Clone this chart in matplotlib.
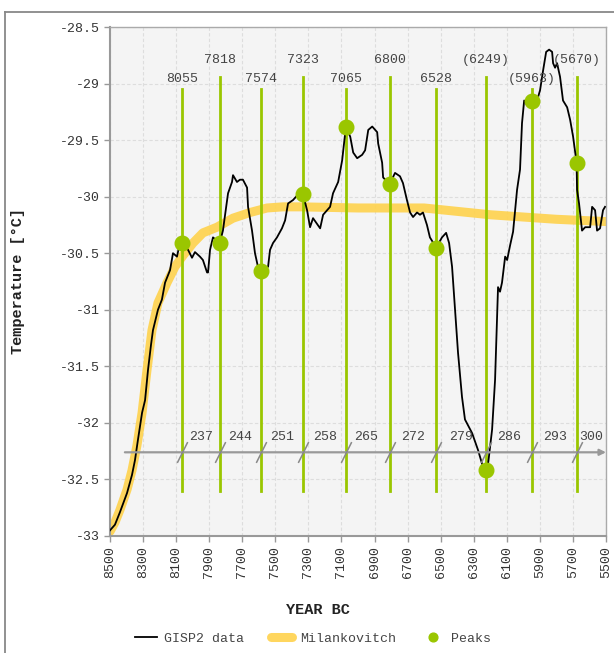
import matplotlib.pyplot as plt
import matplotlib.lines as mlines
from matplotlib.ticker import FuncFormatter, MultipleLocator

# GISP2 temperature record
gisp2_year = [8500, 8470, 8440, 8397, 8367, 8349, 8331, 8306, 8288, 8270, 8252, 8240,
              8210, 8186, 8167, 8137, 8119, 8095, 8077, 8066, 8028, 8004, 7986, 7956,
              7938, 7913, 7907, 7895, 7877, 7836, 7817, 7786, 7762, 7756, 7732, 7714,
              7696, 7671, 7665, 7641, 7623, 7605, 7584, 7544, 7532, 7514, 7490, 7460,
              7441, 7423, 7393, 7356, 7332, 7308, 7290, 7272, 7229, 7211, 7169, 7151,
              7120, 7096, 7078, 7073, 7047, 7029, 7005, 6975, 6957, 6938, 6914, 6884,
              6878, 6854, 6848, 6809, 6776, 6746, 6728, 6704, 6685, 6667, 6643, 6625,
              6607, 6583, 6565, 6527, 6492, 6467, 6449, 6431, 6413, 6395, 6371, 6353,
              6310, 6274, 6250, 6230, 6213, 6189, 6171, 6153, 6141, 6129, 6110, 6098,
              6080, 6062, 6038, 6020, 6008, 5995, 5977, 5950, 5917, 5899, 5880, 5862,
              5844, 5826, 5820, 5808, 5796, 5778, 5760, 5735, 5717, 5699, 5678, 5675,
              5663, 5645, 5626, 5596, 5584, 5566, 5554, 5536, 5518, 5506]
gisp2_temp = [-32.95, -32.90, -32.79, -32.62, -32.46, -32.33, -32.15, -31.91, -31.80, -31.53,
              -31.31, -31.18, -31.00, -30.91, -30.76, -30.65, -30.50, -30.53, -30.41, -30.41,
              -30.47, -30.54, -30.49, -30.53, -30.56, -30.67, -30.67, -30.47, -30.36, -30.41,
              -30.30, -29.97, -29.87, -29.81, -29.87, -29.85, -29.85, -29.92, -30.09, -30.30,
              -30.50, -30.62, -30.66, -30.62, -30.47, -30.41, -30.36, -30.28, -30.21, -30.06,
              -30.03, -29.97, -29.98, -30.12, -30.27, -30.19, -30.28, -30.16, -30.09, -29.97,
              -29.87, -29.68, -29.44, -29.38, -29.47, -29.61, -29.66, -29.63, -29.59, -29.41,
              -29.38, -29.43, -29.53, -29.70, -29.83, -29.89, -29.79, -29.82, -29.88, -30.03,
              -30.14, -30.18, -30.14, -30.16, -30.14, -30.25, -30.36, -30.45, -30.36, -30.32,
              -30.41, -30.62, -31.00, -31.38, -31.77, -31.97, -32.09, -32.24, -32.36, -32.43,
              -32.36, -32.06, -31.62, -30.80, -30.84, -30.76, -30.53, -30.56, -30.43, -30.31,
              -29.94, -29.76, -29.35, -29.15, -29.19, -29.15, -29.15, -29.06, -28.88, -28.72,
              -28.70, -28.72, -28.82, -28.86, -28.82, -28.94, -29.15, -29.21, -29.32, -29.47,
              -29.70, -29.94, -30.06, -30.30, -30.27, -30.27, -30.09, -30.12, -30.30, -30.28,
              -30.12, -30.09]

# Milankovitch curve
milank_year = [8500, 8470, 8440, 8397, 8367, 8337, 8306, 8276, 8246, 8210, 8155, 8107,
               8058, 7998, 7938, 7853, 7756, 7653, 7550, 7453, 7350, 7000, 6600, 6400,
               6200, 6000, 5800, 5500]
milank_temp = [-32.96, -32.88, -32.77, -32.59, -32.42, -32.20, -31.91, -31.53, -31.18, -30.94,
               -30.76, -30.62, -30.52, -30.41, -30.32, -30.27, -30.19, -30.14, -30.10, -30.09,
               -30.09, -30.10, -30.10, -30.13, -30.16, -30.18, -30.20, -30.22]

# peaks
peak_year = [8066, 7836, 7584, 7332, 7073, 6809, 6527, 6226, 5950, 5678]
peak_temp = [-30.41, -30.41, -30.66, -29.98, -29.38, -29.89, -30.45, -32.42, -29.15, -29.70]
peak_labels = ['8055', '7818', '7574', '7323', '7065', '6800', '6528',
               '(6249)', '(5963)', '(5670)']
peak_top = [-29.05, -28.94, -29.05, -28.94, -29.05, -28.94, -29.05, -28.94, -29.05, -28.94]
peak_bottom = -32.6
interval_labels = ['237', '244', '251', '258', '265', '272', '279', '286', '293', '300']
interval_level = -32.26

x_ticks = list(range(8500, 5499, -200))

GREEN = '#9AC600'
YELLOW = '#FFD24C'
GRAY = '#999999'
TXT = '#444444'
MONO = 'Liberation Mono'

plt.rcParams['font.family'] = MONO

fig = plt.figure(figsize=(6.14, 6.53), dpi=100)
ax = fig.add_axes([110 / 614, 1 - 536 / 653, 496 / 614, 509 / 653])
ax.set_facecolor('#F4F4F4')

# outer frame
fig.add_artist(mlines.Line2D([5 / 614, 1], [1 - 12 / 653, 1 - 12 / 653],
                             transform=fig.transFigure, color='#888888', lw=1.3))
fig.add_artist(mlines.Line2D([5 / 614, 5 / 614], [0, 1 - 12 / 653],
                             transform=fig.transFigure, color='#888888', lw=1.3))

ax.plot(milank_year, milank_temp, color=YELLOW, lw=6.5, alpha=0.9,
        solid_capstyle='round', zorder=2, label='Milankovitch')

for yr, top in zip(peak_year, peak_top):
    ax.plot([yr, yr], [peak_bottom, top], color=GREEN, lw=2, zorder=3)

ax.plot(gisp2_year, gisp2_temp, color='black', lw=1.3, zorder=4, label='GISP2 data')

ax.plot(peak_year, peak_temp, 'o', color=GREEN, ms=10.5, zorder=5,
        linestyle='none', label='Peaks')

# peak year labels (two staggered levels)
for yr, top, lab in zip(peak_year, peak_top, peak_labels):
    ty = -28.99 if top < -29 else -28.82
    ax.text(yr, ty, lab, ha='center', va='baseline', fontsize=9.5, color=TXT, zorder=6)

# interval axis with slashes
ax.annotate('', xy=(5500, interval_level), xytext=(8410, interval_level),
            arrowprops=dict(arrowstyle='-|>', color=GRAY, lw=1.6, mutation_scale=9,
                            shrinkA=0, shrinkB=0), zorder=6)
label_dx = [5, 6, 6, 7, 6, 8, 9, 8, 8, 2]
for yr, lab, dx in zip(peak_year, interval_labels, label_dx):
    ax.plot([yr], [interval_level], marker=[(-1, -2), (1, 2)], ms=15,
            mec='#888888', mfc='none', mew=1.1, linestyle='none', zorder=6)
    ax.annotate(lab, (yr, interval_level), xytext=(dx, 8.5), textcoords='offset points',
                ha='left', va='baseline', fontsize=9.5, color=TXT, zorder=7)

ax.set_xlim(8500, 5500)
ax.set_ylim(-33, -28.5)
ax.set_xticks(x_ticks)
ax.yaxis.set_major_locator(MultipleLocator(0.5))
ax.yaxis.set_major_formatter(FuncFormatter(lambda v, p: ('%g' % v)))
ax.tick_params(axis='x', labelrotation=90)
ax.tick_params(colors='#999999', labelcolor='#333333', labelsize=9.5, length=4, width=1)
ax.grid(True, color='#DDDDDD', linestyle=(0, (3, 2)), lw=0.8)
ax.set_axisbelow(True)
for s in ax.spines.values():
    s.set_color('#AAAAAA')
    s.set_linewidth(1)
ax.spines['left'].set_linewidth(1.5)
ax.spines['bottom'].set_linewidth(1.5)
ax.spines['left'].set_color('#999999')
ax.spines['bottom'].set_color('#999999')

ax.set_ylabel('Temperature [°C]', fontsize=11, fontweight='bold', color='#222222')
ax.yaxis.set_label_coords(-0.171, 0.5)
ax.set_xlabel('YEAR BC', fontsize=11, fontweight='bold', color='#222222')
ax.xaxis.set_label_coords(0.42, -0.132)

h, l = ax.get_legend_handles_labels()
order = [l.index('GISP2 data'), l.index('Milankovitch'), l.index('Peaks')]
ax.legend([h[i] for i in order], [l[i] for i in order], loc='center',
          bbox_to_anchor=(0.41, -0.202), ncol=3, frameon=False, fontsize=9.5,
          handlelength=1.6, columnspacing=2.0, handletextpad=0.6, markerscale=0.6,
          labelcolor='#444444')

fig.savefig('out.png', dpi=100)
